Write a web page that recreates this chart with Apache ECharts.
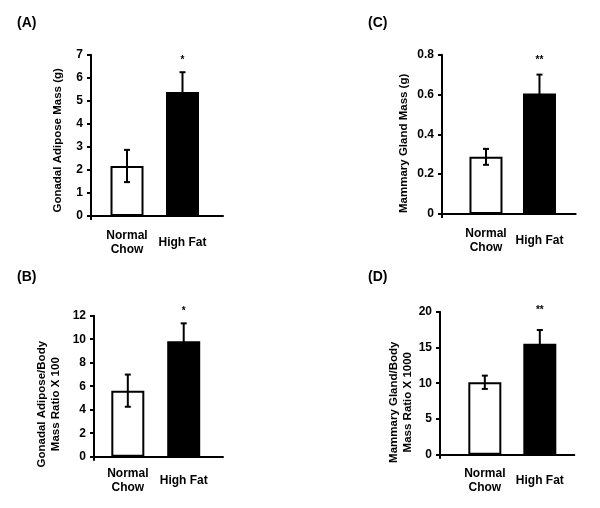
<!DOCTYPE html>
<html>
<head>
<meta charset="utf-8">
<script src="https://cdn.jsdelivr.net/npm/echarts@6/dist/echarts.min.js"></script>
<style>
html,body{margin:0;padding:0;background:#fff;}
#chart{width:600px;height:508px;}
</style>
</head>
<body>
<div id="chart"></div>
<script>
// ---- data ----
const categories = ['Normal\nChow', 'High Fat'];
const categoryPos = [1, 2];
const barColors = ['#ffffff', '#000000'];

const gonadalMass = [2.17, 5.38];
const gonadalMassErr = [0.70, 0.86];
const gonadalMassSig = ['', '*'];

const gonadalRatio = [5.62, 9.82];
const gonadalRatioErr = [1.37, 1.53];
const gonadalRatioSig = ['', '*'];

const mammaryMass = [0.287, 0.605];
const mammaryMassErr = [0.04, 0.095];
const mammaryMassSig = ['', '**'];

const mammaryRatio = [10.13, 15.52];
const mammaryRatioErr = [0.93, 1.92];
const mammaryRatioSig = ['', '**'];

const panelLabels = ['(A)', '(B)', '(C)', '(D)'];
const yTitles = [
  'Gonadal Adipose Mass (g)',
  'Gonadal Adipose/Body\nMass Ratio X 100',
  'Mammary Gland Mass (g)',
  'Mammary Gland/Body\nMass Ratio X 1000'
];
const yMax = [7, 12, 0.8, 20];
const yInterval = [1, 2, 0.2, 5];

// ---- layout (pixels) ----
const FONT = '"Liberation Sans", Arial, sans-serif';
const panels = [
  {vals: gonadalMass, errs: gonadalMassErr, sig: gonadalMassSig,
   grid: {left: 91, top: 54.7, width: 132, height: 161.3}, xMin: 0.351, xMax: 2.730,
   nameGap: 26, nameShift: 5, labelMargin: 27, sigOff: 12, label: {left: 17, top: 16}},
  {vals: gonadalRatio, errs: gonadalRatioErr, sig: gonadalRatioSig,
   grid: {left: 94, top: 315.7, width: 129, height: 141}, xMin: 0.395, xMax: 2.703,
   nameGap: 31, nameShift: 18, labelMargin: 23.5, sigOff: 12, label: {left: 17, top: 270}},
  {vals: mammaryMass, errs: mammaryMassErr, sig: mammaryMassSig,
   grid: {left: 442, top: 54.7, width: 133.7, height: 159.3}, xMin: 0.178, xMax: 2.677,
   nameGap: 31, nameShift: 9, labelMargin: 26.5, sigOff: 14, label: {left: 368, top: 16}},
  {vals: mammaryRatio, errs: mammaryRatioErr, sig: mammaryRatioSig,
   grid: {left: 440, top: 311.7, width: 134.3, height: 143}, xMin: 0.185, xMax: 2.627,
   nameGap: 23, nameShift: 19, labelMargin: 25.5, sigOff: 20, label: {left: 368, top: 270}}
];

const option = {
  animation: false,
  backgroundColor: '#ffffff',
  title: [], grid: [], xAxis: [], yAxis: [], series: []
};

panels.forEach((p, i) => {
  option.title.push({
    text: panelLabels[i], left: p.label.left, top: p.label.top, padding: 0,
    textStyle: {fontFamily: FONT, fontSize: 14, fontWeight: 'bold', color: '#000'}
  });
  option.grid.push(Object.assign({containLabel: false}, p.grid));
  option.xAxis.push({
    type: 'value', gridIndex: i, min: p.xMin, max: p.xMax,
    splitLine: {show: false},
    axisLine: {show: true, onZero: false, lineStyle: {color: '#000', width: 2}},
    axisTick: {show: true, customValues: [p.xMin], length: 4, lineStyle: {color: '#000', width: 2}},
    axisLabel: {
      show: true, customValues: categoryPos,
      formatter: v => categories[categoryPos.indexOf(Math.round(v))] || '',
      fontFamily: FONT, fontSize: 12, fontWeight: 'bold', color: '#000',
      lineHeight: 14, verticalAlign: 'middle', margin: p.labelMargin
    }
  });
  option.yAxis.push({
    type: 'value', gridIndex: i, min: 0, max: yMax[i], interval: yInterval[i],
    splitLine: {show: false},
    axisLine: {show: true, lineStyle: {color: '#000', width: 2}},
    axisTick: {show: true, length: 4, lineStyle: {color: '#000', width: 2}},
    axisLabel: {fontFamily: FONT, fontSize: 12, fontWeight: 'bold', color: '#000', margin: 8},
    name: yTitles[i], nameLocation: 'middle', nameRotate: 90, nameGap: p.nameGap,
    nameTextStyle: {fontFamily: FONT, fontSize: 11.5, fontWeight: 'bold', color: '#000',
      lineHeight: 14, padding: [0, p.nameShift * 2, 0, 0]}
  });
  option.series.push({
    type: 'bar', xAxisIndex: i, yAxisIndex: i, barWidth: 33,
    data: p.vals.map((v, k) => ({
      value: [categoryPos[k], v],
      itemStyle: {color: barColors[k], borderColor: '#000', borderWidth: 2}
    }))
  });
  option.series.push({
    type: 'custom', xAxisIndex: i, yAxisIndex: i, z: 5, clip: false,
    encode: {x: 0, y: 1},
    data: p.vals.map((v, k) => [categoryPos[k], v, p.errs[k]]),
    renderItem: (params, api) => {
      const x = api.value(0), m = api.value(1), e = api.value(2);
      const top = api.coord([x, m + e]);
      const bot = api.coord([x, m - e]);
      const cap = 3;
      const style = {stroke: '#000', lineWidth: 2};
      return {
        type: 'group',
        children: [
          {type: 'line', shape: {x1: top[0], y1: top[1], x2: bot[0], y2: bot[1]}, style},
          {type: 'line', shape: {x1: top[0] - cap, y1: top[1], x2: top[0] + cap, y2: top[1]}, style},
          {type: 'line', shape: {x1: bot[0] - cap, y1: bot[1], x2: bot[0] + cap, y2: bot[1]}, style},
          {type: 'text', style: {
            text: p.sig[params.dataIndex], x: top[0], y: top[1] - p.sigOff,
            align: 'center', verticalAlign: 'middle',
            font: 'bold 10px ' + FONT, fill: '#000'
          }}
        ]
      };
    }
  });
});

const chart = echarts.init(document.getElementById('chart'), null, {renderer: 'canvas'});
chart.setOption(option);
</script>
</body>
</html>
